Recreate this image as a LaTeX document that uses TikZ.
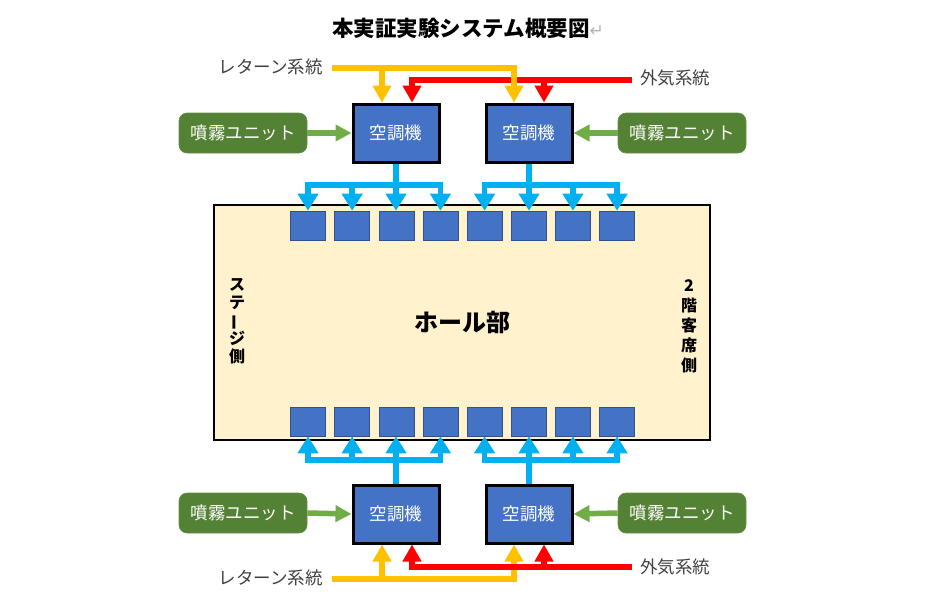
\documentclass[tikz,border=0pt]{standalone}
\usepackage{fontspec}
\usepackage{graphicx}
\setmainfont{Noto Sans CJK JP}
\newfontfamily\dejavu{DejaVu Sans}
\usetikzlibrary{arrows.meta}
\definecolor{acblue}{HTML}{4472C4}
\definecolor{sqedge}{HTML}{2F528F}
\definecolor{gfill}{HTML}{548235}
\definecolor{garr}{HTML}{70AD47}
\definecolor{cyanl}{HTML}{00B0F0}
\definecolor{yel}{HTML}{FFC000}
\definecolor{redl}{HTML}{FF0000}
\definecolor{hallfill}{HTML}{FFF2CC}
\definecolor{lbl}{HTML}{404040}
\begin{document}
\begin{tikzpicture}[x=1pt,y=-1pt,
 acbox/.style={draw=black,line width=3pt,fill=acblue,minimum width=86pt,minimum height=58pt,inner sep=0pt,text=white,font=\fontsize{17.5}{21}\selectfont},
 greenbox/.style={fill=gfill,draw=gfill!90!white,line width=0.6pt,rounded corners=8pt,minimum width=128pt,minimum height=40pt,inner sep=0pt,text=white,font=\fontsize{17.5}{21}\selectfont},
 sqbox/.style={fill=acblue,draw=sqedge,line width=0.6pt,minimum width=35pt,minimum height=29pt,inner sep=0pt},
 lbltext/.style={text=lbl,inner sep=0pt,font=\fontsize{17.5}{21}\selectfont},
 yline/.style={draw=yel,line width=6pt},
 rline/.style={draw=redl,line width=6pt},
 ytip/.style={-{Triangle[width=18pt,length=17pt]}},
 bline/.style={draw=cyanl,line width=5.5pt},
 btip/.style={-{Triangle[width=20pt,length=17pt]}},
 bboth/.style={{Triangle[width=20pt,length=17pt]}-{Triangle[width=20pt,length=17pt]}},
 gline/.style={draw=garr,line width=5.5pt,-{Triangle[width=16pt,length=16pt]}},
 vtext/.style={align=center,inner sep=0pt,font=\bfseries\fontsize{16}{18}\selectfont},
]
\useasboundingbox (0,0) rectangle (925,613);

% title
\node[anchor=west,inner sep=0pt,font=\bfseries\fontsize{21.5}{26}\selectfont] (title) at (332,28) {本実証実験システム概要図{\dejavu\mdseries\fontsize{17}{20}\selectfont\color{gray!60}↵}};

% hall
\node[draw=black,line width=2.5pt,fill=hallfill,minimum width=496pt,minimum height=235pt,inner sep=0pt] (hall) at (462,322.5) {};
\node[font=\bfseries\fontsize{24}{28}\selectfont,inner sep=0pt] (hallt) at (462,322) {ホール部};
\node[vtext] (stage) at (237,321.5) {ス\\テ\\\rotatebox[origin=c]{90}{ー}\\ジ\\側};
\node[vtext,font=\bfseries\fontsize{16}{20}\selectfont] (seat) at (689,326) {2\\階\\客\\席\\側};

% outlets
\foreach \i in {1,...,8} {
  \node[sqbox] (t\i) at ({308+44.15*(\i-1)},225.5) {};
  \node[sqbox] (b\i) at ({308+44.15*(\i-1)},421.5) {};
}

% air conditioners
\node[acbox] (acTL) at (396,133) {空調機};
\node[acbox] (acTR) at (529,133) {空調機};
\node[acbox] (acBL) at (396,514) {空調機};
\node[acbox] (acBR) at (529,514) {空調機};

% mist units
\node[greenbox] (gTL) at (243,133) {噴霧ユニット};
\node[greenbox] (gTR) at (682,133) {噴霧ユニット};
\node[greenbox] (gBL) at (243,513) {噴霧ユニット};
\node[greenbox] (gBR) at (682,513) {噴霧ユニット};
\draw[gline] (gTL.east) -- (acTL.west);
\draw[gline] (gTR.west) -- (acTR.east);
\draw[gline] (gBL.east) -- (acBL.west);
\draw[gline] (gBR.west) -- (acBR.east);

% labels
\node[lbltext,anchor=east] (retT) at (323,67) {レターン系統};
\node[lbltext,anchor=west] (gaiT) at (640,78) {外気系統};
\node[lbltext,anchor=east] (retB) at (323,578) {レターン系統};
\node[lbltext,anchor=west] (gaiB) at (640,567) {外気系統};

% top outside air (red) then return (yellow)
\coordinate (rS) at (632,80);
\coordinate (rT) at (412,80);
\coordinate (rbT) at (544,80);
\draw[rline,ytip] (rS) -- (rT) -- (rT |- acTL.north);
\draw[rline,ytip] (rbT) -- (rbT |- acTR.north);
\coordinate (yS) at (332,68);
\coordinate (yT) at (514,68);
\coordinate (ybT) at (382,68);
\draw[yline,ytip] (yS) -- (yT) -- (yT |- acTR.north);
\draw[yline,ytip] (ybT) -- (ybT |- acTL.north);

% bottom return (yellow) then outside air (red)
\coordinate (yS2) at (332,579);
\coordinate (yT2) at (514,579);
\coordinate (ybT2) at (382,579);
\draw[yline,ytip] (yS2) -- (yT2) -- (yT2 |- acBR.south);
\draw[yline,ytip] (ybT2) -- (ybT2 |- acBL.south);
\coordinate (rS2) at (632,567);
\coordinate (rT2) at (412,567);
\coordinate (rbT2) at (544,567);
\draw[rline,ytip] (rS2) -- (rT2) -- (rT2 |- acBL.south);
\draw[rline,ytip] (rbT2) -- (rbT2 |- acBR.south);

% top supply (blue)
\coordinate (bl1) at (396,185);
\coordinate (bl2) at (529,185);
\draw[bline,bboth] (t1.north) -- (t1.north |- bl1) -- (t4.north |- bl1) -- (t4.north);
\draw[bline,btip] (t2.north |- bl1) -- (t2.north);
\draw[bline,btip] (acTL.south) -- (acTL.south |- t3.north);
\draw[bline,bboth] (t5.north) -- (t5.north |- bl2) -- (t8.north |- bl2) -- (t8.north);
\draw[bline,btip] (t7.north |- bl2) -- (t7.north);
\draw[bline,btip] (acTR.south) -- (acTR.south |- t6.north);

% bottom supply (blue)
\coordinate (bl3) at (396,460);
\coordinate (bl4) at (529,460);
\draw[bline,bboth] (b1.south) -- (b1.south |- bl3) -- (b4.south |- bl3) -- (b4.south);
\draw[bline,btip] (b2.south |- bl3) -- (b2.south);
\draw[bline,btip] (acBL.north) -- (acBL.north |- b3.south);
\draw[bline,bboth] (b5.south) -- (b5.south |- bl4) -- (b8.south |- bl4) -- (b8.south);
\draw[bline,btip] (b7.south |- bl4) -- (b7.south);
\draw[bline,btip] (acBR.north) -- (acBR.north |- b6.south);
\end{tikzpicture}
\end{document}
